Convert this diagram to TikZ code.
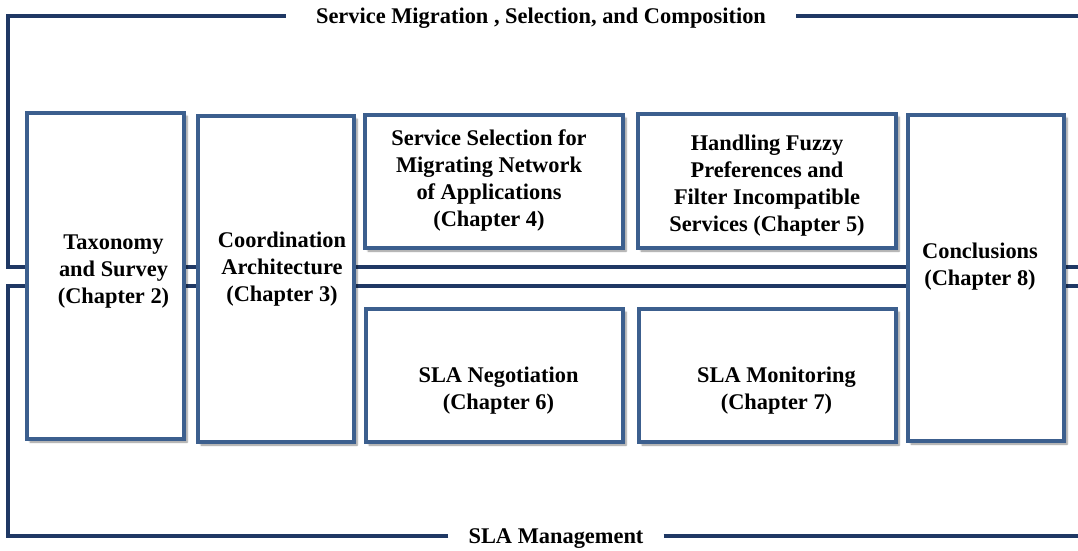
\documentclass[tikz,border=0pt]{standalone}
\usepackage{xcolor}
\usepackage{fontspec}
\setmainfont{Liberation Serif}
\usepackage{tikz}
\usetikzlibrary{shadows.blur}
\definecolor{boxblue}{HTML}{3C5F8E}
\definecolor{trunkc}{HTML}{1F3864}

\begin{document}
\begin{tikzpicture}[x=1pt, y=-1pt,
  chap/.style={draw=boxblue, line width=3.2pt, fill=white,
    blur shadow={shadow xshift=3pt, shadow yshift=-3pt, shadow blur steps=6, shadow opacity=45}},
  chaptxt/.style={align=center, inner sep=0pt, font=\bfseries\fontsize{22.4}{27}\selectfont},
  trunk/.style={trunkc, line width=3.6pt, line join=miter},
  band/.style={font=\bfseries\fontsize{22.4}{26}\selectfont}]
  \useasboundingbox (0,0) rectangle (1078,550);

  % band labels and their lines
  \coordinate (tl) at (8,16);
  \coordinate (ml) at (8,267);
  \coordinate (mr) at (1078,267);
  \coordinate (nl) at (8,286);
  \coordinate (nr) at (1078,286);
  \coordinate (bl) at (8,536);
  \node[band, inner xsep=30pt] (migr) at (541,18.5) {Service Migration , Selection, and Composition};
  \node[band, inner xsep=20pt] (slam) at (556,538.5) {SLA Management};
  \draw[trunk] (migr.west |- tl) -- (tl) -- (ml) -- (mr);
  \draw[trunk] (migr.east |- tl) -- (tl -| mr);
  \draw[trunk] (slam.west |- bl) -- (bl) -- (nl) -- (nr);
  \draw[trunk] (slam.east |- bl) -- (bl -| nr);

  % chapter frames
  \node[chap, minimum width=157, minimum height=326] (tax) at (105.5,276) {};
  \node[chap, minimum width=156, minimum height=326] (coord) at (276,279) {};
  \node[chap, minimum width=258, minimum height=133] (sel) at (494,181.5) {};
  \node[chap, minimum width=258, minimum height=134] (fuzzy) at (767,181) {};
  \node[chap, minimum width=257, minimum height=133] (nego) at (494.5,375.5) {};
  \node[chap, minimum width=257, minimum height=133] (moni) at (767.5,375.5) {};
  \node[chap, minimum width=156, minimum height=326] (concl) at (986,278) {};

  % chapter titles
  \node[chaptxt] (taxt) at ([xshift=8, yshift=4]tax.center) {Taxonomy\\and Survey\\(Chapter 2)};
  \node[chaptxt] (coordt) at ([xshift=6, yshift=10]coord.center) {Coordination\\Architecture\\(Chapter 3)};
  \node[chaptxt] (selt) at ([xshift=-5, yshift=1]sel.center) {Service Selection for\\Migrating Network\\of Applications\\(Chapter 4)};
  \node[chaptxt] (fuzzyt) at ([yshift=-5]fuzzy.center) {Handling Fuzzy\\Preferences and\\Filter Incompatible\\Services (Chapter 5)};
  \node[chaptxt] (negot) at ([xshift=4, yshift=-15]nego.center) {SLA Negotiation\\(Chapter 6)};
  \node[chaptxt] (monit) at ([xshift=9, yshift=-15]moni.center) {SLA Monitoring\\(Chapter 7)};
  \node[chaptxt] (conclt) at ([xshift=-6, yshift=11]concl.center) {Conclusions\\(Chapter 8)};
\end{tikzpicture}
\end{document}
